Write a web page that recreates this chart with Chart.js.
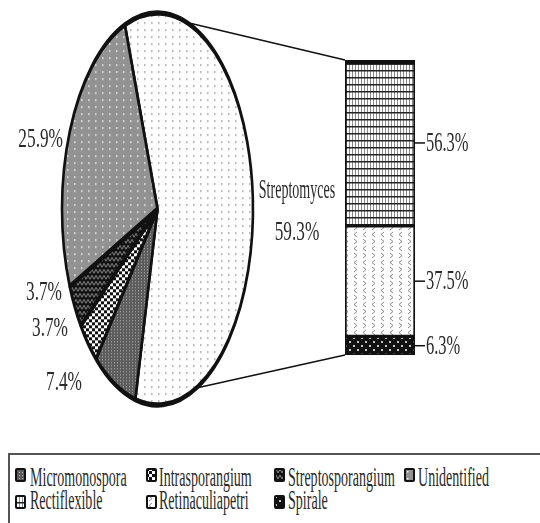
<!DOCTYPE html>
<html>
<head>
<meta charset="utf-8">
<script src="https://cdn.jsdelivr.net/npm/chart.js@4.4.0/dist/chart.umd.min.js"></script>
<style>
  body { margin: 0; background: #fff; }
  #wrap { position: relative; width: 540px; height: 523px; overflow: hidden; background: #fff; }
  #wrap canvas { position: absolute; }
  .lg-box { position: absolute; left: 8px; top: 453px; width: 560px; height: 100px;
            border-top: 2px solid #555; border-left: 2px solid #555; }
  .lg-text { position: absolute; font: 27px/27px 'Liberation Serif', serif; color: #2a2a2a;
             white-space: nowrap; transform: scaleX(0.52); transform-origin: 0 0; }
</style>
</head>
<body>
<div id="wrap">
  <canvas id="pie" width="215" height="410" style="left:50px;top:4px;width:215px;height:410px"></canvas>
  <canvas id="bar" width="540" height="430" style="left:0;top:0;width:540px;height:430px"></canvas>
  <div class="lg-box"></div>
</div>
<script>
// --- data ---
const pieLabels = ['Streptomyces', 'Micromonospora', 'Intrasporangium', 'Streptosporangium', 'Unidentified'];
const pieValues = [59.3, 7.4, 3.7, 3.7, 25.9];
const barLabels = ['Rectiflexible', 'Retinaculiapetri', 'Spirale'];
const barValues = [56.3, 37.5, 6.3];

// --- layout ---
const PIE_RX = 95.5, PIE_RY = 196;
const STRETCH = PIE_RY / PIE_RX;
const PIE_LEFT = 50, PIE_TOP = 4;
// where the pie percentages sit (page px), same order as pieLabels
const pieLabelAt = [[297, 240, 'center'], [82, 390, 'right'], [68, 336, 'right'], [62, 300, 'right'], [63, 147, 'right']];
const nameAt = [297, 198];
const linkAngles = [18, 156];
const TXT = '#2a2a2a';
const FONT = "27px 'Liberation Serif', serif";

function tile(w, h, paint) {
  const c = document.createElement('canvas');
  c.width = w; c.height = h;
  const g = c.getContext('2d');
  paint(g, w, h);
  return c;
}

const tiles = {
  Streptomyces: tile(7, 7, g => { g.fillStyle = '#fff'; g.fillRect(0, 0, 7, 7); g.fillStyle = '#9a9a9a'; g.fillRect(3, 3, 1.5, 1.5); }),
  Micromonospora: tile(3, 3, g => { g.fillStyle = '#5c5c5c'; g.fillRect(0, 0, 3, 3); g.fillStyle = '#b4b4b4'; g.fillRect(1, 1, 1, 1); }),
  Intrasporangium: tile(6, 6, g => { g.fillStyle = '#fff'; g.fillRect(0, 0, 6, 6); g.fillStyle = '#111'; g.fillRect(0, 0, 3, 3); g.fillRect(3, 3, 3, 3); }),
  Streptosporangium: tile(8, 6, g => {
    g.fillStyle = '#111'; g.fillRect(0, 0, 8, 6);
    g.strokeStyle = '#8a8a8a'; g.lineWidth = 1;
    g.beginPath(); g.moveTo(0, 5); g.lineTo(2, 1); g.lineTo(4, 5); g.lineTo(6, 1); g.lineTo(8, 5); g.stroke();
  }),
  Unidentified: tile(7, 7, g => { g.fillStyle = '#929292'; g.fillRect(0, 0, 7, 7); g.fillStyle = '#f0f0f0'; g.fillRect(3, 3, 1.5, 1.5); }),
  Rectiflexible: tile(3, 7, g => {
    g.fillStyle = '#fff'; g.fillRect(0, 0, 3, 7);
    g.fillStyle = '#8a8a8a'; g.fillRect(1, 0, 1, 7);
    g.fillStyle = '#222'; g.fillRect(0, 0, 3, 1.5);
  }),
  Retinaculiapetri: tile(9, 14, g => {
    g.fillStyle = '#fff'; g.fillRect(0, 0, 9, 14);
    g.strokeStyle = '#8a8a8a'; g.lineWidth = 1;
    g.beginPath(); g.moveTo(3, 1); g.lineTo(6, 3.5); g.lineTo(3, 6); g.stroke();
    g.beginPath(); g.moveTo(6, 8); g.lineTo(3, 10.5); g.lineTo(6, 13); g.stroke();
  }),
  Spirale: tile(8, 8, g => { g.fillStyle = '#111'; g.fillRect(0, 0, 8, 8); g.fillStyle = '#c4c4c4'; g.fillRect(1, 1, 2, 2); g.fillRect(5, 5, 2, 2); })
};

const patCtx = document.createElement('canvas').getContext('2d');
function pattern(name, sy) {
  const p = patCtx.createPattern(tiles[name], 'repeat');
  if (sy) p.setTransform(new DOMMatrix().scale(1, 1 / sy));
  return p;
}

// the pie is drawn as a circle and stretched into the tall ellipse of the original
const ellipsePlugin = {
  id: 'ellipse',
  beforeDatasetsDraw(chart) {
    const arc = chart.getDatasetMeta(0).data[0];
    const ctx = chart.ctx;
    ctx.save();
    ctx.translate(arc.x, arc.y);
    ctx.scale(1, STRETCH);
    ctx.translate(-arc.x, -arc.y);
  },
  afterDatasetsDraw(chart) { chart.ctx.restore(); }
};

const pieChart = new Chart(document.getElementById('pie'), {
  type: 'pie',
  data: {
    labels: pieLabels,
    datasets: [{
      data: pieValues,
      backgroundColor: pieLabels.map(n => pattern(n, STRETCH)),
      borderColor: '#111',
      borderWidth: 2.6,
      hoverOffset: 0,
      radius: PIE_RX,
      clip: false
    }]
  },
  options: {
    responsive: false,
    animation: false,
    devicePixelRatio: 1,
    rotation: -20,
    plugins: { legend: { display: false }, tooltip: { enabled: false } }
  },
  plugins: [ellipsePlugin]
});

function drawText(ctx, str, x, y, align, sx, base) {
  ctx.save();
  ctx.translate(x, y);
  ctx.scale(sx, 1);
  ctx.textAlign = align;
  ctx.textBaseline = base || 'alphabetic';
  ctx.fillText(str, 0, 0);
  ctx.restore();
}

const annotatePlugin = {
  id: 'annotate',
  afterDraw(chart) {
    const ctx = chart.ctx;
    const top = chart.getDatasetMeta(chart.data.datasets.length - 1).data[0];
    const bottom = chart.getDatasetMeta(0).data[0];
    const arc = pieChart.getDatasetMeta(0).data[0];
    const cx = arc.x + PIE_LEFT, cy = arc.y + PIE_TOP;
    const rx = arc.outerRadius, ry = rx * STRETCH;
    const pt = a => [cx + rx * Math.sin(a * Math.PI / 180), cy - ry * Math.cos(a * Math.PI / 180)];

    // connector lines pie -> bar
    ctx.save();
    ctx.strokeStyle = '#111';
    ctx.lineWidth = 1.5;
    const [x1, y1] = pt(linkAngles[0]);
    const [x2, y2] = pt(linkAngles[1]);
    ctx.beginPath();
    ctx.moveTo(x1, y1); ctx.lineTo(top.x - top.width / 2, top.y);
    ctx.moveTo(x2, y2); ctx.lineTo(bottom.x - bottom.width / 2, bottom.base);
    ctx.stroke();

    // bar ticks + labels
    ctx.font = FONT;
    ctx.fillStyle = TXT;
    chart.data.datasets.forEach((ds, i) => {
      const b = chart.getDatasetMeta(i).data[0];
      const y = (b.y + b.base) / 2;
      const xr = b.x + b.width / 2;
      ctx.beginPath(); ctx.moveTo(xr, y); ctx.lineTo(xr + 10, y); ctx.stroke();
      drawText(ctx, ds.data[0].toFixed(1) + '%', xr + 11, y + 1, 'left', 0.61, 'middle');
    });

    // pie labels
    drawText(ctx, pieLabels[0], nameAt[0], nameAt[1], 'center', 0.52);
    pieValues.forEach((v, i) => {
      const [x, y, al] = pieLabelAt[i];
      drawText(ctx, v.toFixed(1) + '%', x, y, al, 0.64);
    });
    ctx.restore();
  }
};

// stacked from the bottom: Spirale, Retinaculiapetri, Rectiflexible
const barOrder = [2, 1, 0];
new Chart(document.getElementById('bar'), {
  type: 'bar',
  data: {
    labels: [pieLabels[0]],
    datasets: barOrder.map(i => ({
      label: barLabels[i],
      data: [barValues[i]],
      backgroundColor: pattern(barLabels[i]),
      borderColor: '#111',
      borderWidth: i === 0 ? { top: 5, left: 2, right: 2, bottom: 2 } : 2,
      borderSkipped: false,
      barPercentage: 1,
      categoryPercentage: 1
    }))
  },
  options: {
    responsive: false,
    animation: false,
    devicePixelRatio: 1,
    layout: { padding: { left: 345, right: 125, top: 60, bottom: 75 } },
    scales: {
      x: { stacked: true, display: false },
      y: { stacked: true, display: false, min: 0, max: 100.1 }
    },
    plugins: { legend: { display: false }, tooltip: { enabled: false } }
  },
  plugins: [annotatePlugin]
});

// legend (HTML)
const legendLabels = [...pieLabels.slice(1), ...barLabels];
const colIconX = [15, 146, 274, 404], colTextX = [30, 159, 288, 418];
const rowIconY = [468, 495], rowTextY = [464, 487];
const wrap = document.getElementById('wrap');
legendLabels.forEach((name, k) => {
  const c = k % 4, r = Math.floor(k / 4);
  const ic = document.createElement('canvas');
  ic.width = 11; ic.height = 14;
  ic.style.cssText = `left:${colIconX[c]}px;top:${rowIconY[r]}px;width:11px;height:14px`;
  const g = ic.getContext('2d');
  g.fillStyle = '#111';
  g.beginPath(); g.roundRect(0, 0, 11, 14, 2); g.fill();
  g.fillStyle = g.createPattern(tiles[name], 'repeat');
  g.fillRect(2, 2, 7, 10);
  wrap.appendChild(ic);
  const t = document.createElement('div');
  t.className = 'lg-text';
  t.textContent = name;
  t.style.left = colTextX[c] + 'px';
  t.style.top = rowTextY[r] + 'px';
  wrap.appendChild(t);
});
</script>
</body>
</html>
